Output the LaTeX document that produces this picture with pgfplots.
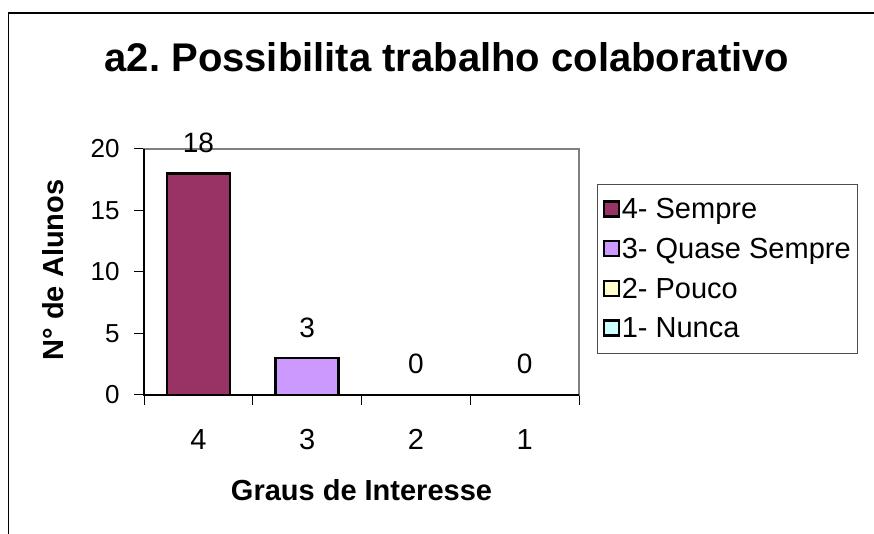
\documentclass[border=0pt]{standalone}
\usepackage{pgfplots}
\pgfplotsset{compat=1.18}
\usepackage{fontspec}
\setmainfont{Liberation Sans}
\definecolor{cSempre}{HTML}{993366}
\definecolor{cQuase}{HTML}{CC99FF}
\definecolor{cPouco}{HTML}{FFFFCC}
\definecolor{cNunca}{HTML}{CCFFFF}
\begin{document}
\frenchspacing
\begin{tikzpicture}[x=1pt,y=1pt]
\useasboundingbox (0,0) rectangle (874,534);
\fill[white] (0,0) rectangle (874,534);
\draw[black, line width=1.5pt] (8.5,0) -- (8.5,521) -- (875,521);
\node[anchor=base, font=\fontsize{40}{46}\selectfont\bfseries] at (447,462) {a2. Possibilita trabalho colaborativo};
\begin{axis}[
  at={(144pt,139pt)}, anchor=south west,
  width=435pt, height=246pt, scale only axis,
  ybar, bar width=63pt, bar shift=0pt,
  xmin=-0.5, xmax=3.5, ymin=0, ymax=20,
  ytick={0,5,10,15,20},
  xtick={0,1,2,3}, xticklabels={4,3,2,1},
  major x tick style={draw=none},
  minor xtick={-0.5,0.5,1.5,2.5,3.5},
  tick align=outside, xtick pos=left, ytick pos=left,
  major tick length=10pt, minor tick length=10pt,
  tick style={black, line width=1pt},
  axis line style={draw=gray, line width=2pt},
  clip=false,
  /pgf/number format/assume math mode=true,
  yticklabel style={font=\fontsize{26}{30}\selectfont, anchor=east, xshift=-11pt},
  xticklabel style={font=\fontsize{29}{32}\selectfont, anchor=base, yshift=-45pt},
  xlabel={Graus de Interesse},
  ylabel={N° de Alunos},
  xlabel style={font=\fontsize{29}{32}\selectfont\bfseries, at={(rel axis cs:0.5,-0.386)}, anchor=center},
  ylabel style={font=\fontsize{29}{32}\selectfont\bfseries, at={(rel axis cs:-0.209,0.508)}, anchor=center, rotate=0},
  nodes near coords,
  every node near coord/.append style={font=\fontsize{28}{30}\selectfont, anchor=base, yshift=21pt},
  legend style={at={(rel axis cs:1.0414,0.8577)}, anchor=north west, draw=black!70, line width=1.2pt,
    font=\fontsize{29}{33}\selectfont, row sep=14pt, inner xsep=5pt, inner ysep=12pt,
    /tikz/every even column/.append style={column sep=0pt}},
  legend cell align=left,
  legend image code/.code={\draw[#1,draw=black,line width=2.2pt] (1pt,-7pt) rectangle (16pt,8pt);},
]
\addplot[fill=cSempre, draw=black, line width=2.4pt] coordinates {(0,18)};
\addplot[fill=cQuase, draw=black, line width=2.4pt] coordinates {(1,3)};
\addplot[fill=cPouco, draw=black, line width=2.4pt] coordinates {(2,0)};
\addplot[fill=cNunca, draw=black, line width=2.4pt] coordinates {(3,0)};
\legend{4- Sempre, 3- Quase Sempre, 2- Pouco, 1- Nunca}
\draw[black, line width=1.5pt] (rel axis cs:0,1) -- (rel axis cs:0,0) -- (rel axis cs:1,0);
\end{axis}
\end{tikzpicture}
\end{document}
